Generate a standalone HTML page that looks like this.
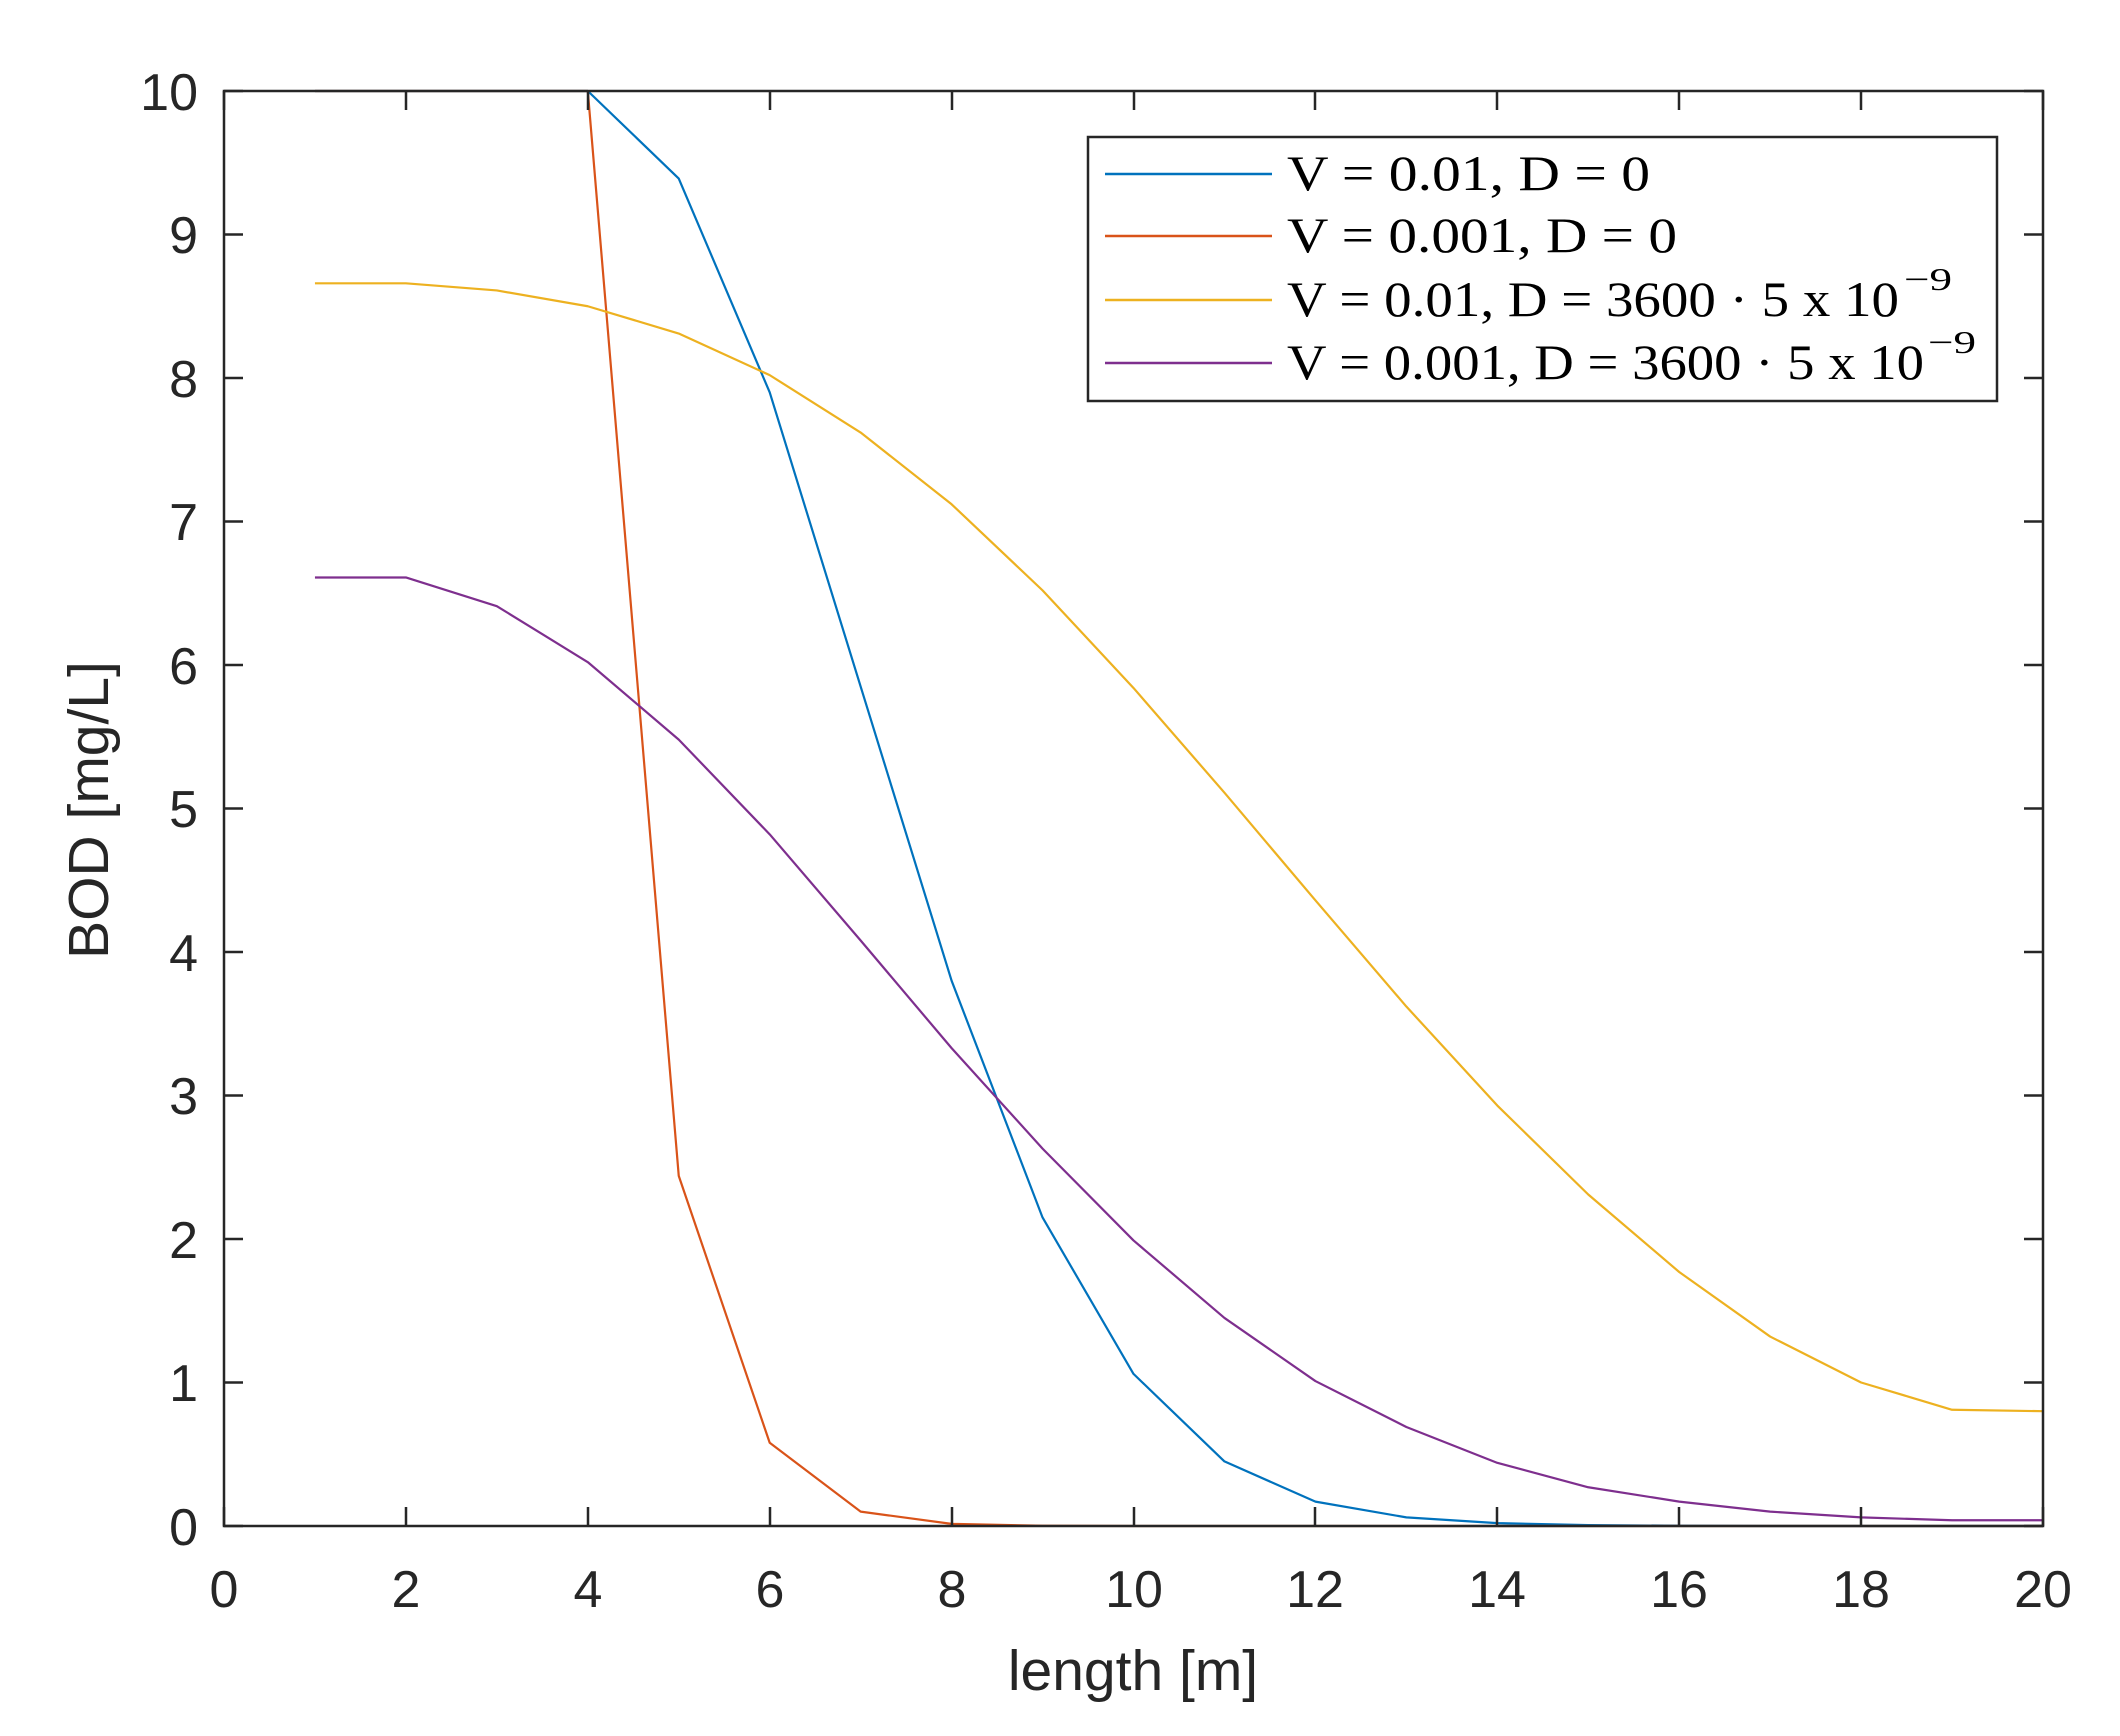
<!DOCTYPE html>
<html><head><meta charset="utf-8"><style>
html,body{margin:0;padding:0;background:#fff;}
svg{display:block}
</style></head><body>
<svg width="2120" height="1736" viewBox="0 0 2120 1736" xmlns="http://www.w3.org/2000/svg">
<rect width="2120" height="1736" fill="#fff"/>
<g transform="translate(224,1526) scale(90.95,-143.5)" fill="none" stroke-width="2.2" stroke-linejoin="round">
<polyline vector-effect="non-scaling-stroke" stroke="#0072BD" points="1,10 2,10 3,10 4,10 5,9.39 6,7.9 7,5.85 8,3.8 9,2.15 10,1.06 11,0.45 12,0.17 13,0.06 14,0.02 15,0.006 16,0.002 17,0 18,0 19,0 20,0"/>
<polyline vector-effect="non-scaling-stroke" stroke="#D95319" points="1,10 2,10 3,10 4,10 5,2.44 6,0.58 7,0.1 8,0.015 9,0.002 10,0 11,0 12,0 13,0 14,0 15,0 16,0 17,0 18,0 19,0 20,0"/>
<polyline vector-effect="non-scaling-stroke" stroke="#EDB120" points="1,8.66 2,8.66 3,8.61 4,8.5 5,8.31 6,8.02 7,7.62 8,7.12 9,6.52 10,5.84 11,5.11 12,4.36 13,3.62 14,2.93 15,2.31 16,1.77 17,1.32 18,1.0 19,0.81 20,0.8"/>
<polyline vector-effect="non-scaling-stroke" stroke="#7E2F8E" points="1,6.61 2,6.61 3,6.41 4,6.02 5,5.48 6,4.82 7,4.08 8,3.33 9,2.63 10,1.99 11,1.45 12,1.01 13,0.69 14,0.44 15,0.27 16,0.17 17,0.1 18,0.06 19,0.04 20,0.04"/>
</g>
<g stroke="#262626" stroke-width="2.5" fill="none">
<rect x="224" y="91" width="1819" height="1435"/>
<path d="M224,1526v-19M406,1526v-19M588,1526v-19M770,1526v-19M952,1526v-19M1134,1526v-19M1315,1526v-19M1497,1526v-19M1679,1526v-19M1861,1526v-19M2043,1526v-19
M224,91v19M406,91v19M588,91v19M770,91v19M952,91v19M1134,91v19M1315,91v19M1497,91v19M1679,91v19M1861,91v19M2043,91v19
M224,1526h19M224,1382.5h19M224,1239h19M224,1095.5h19M224,952h19M224,808.5h19M224,665h19M224,521.5h19M224,378h19M224,234.5h19M224,91h19
M2043,1526h-19M2043,1382.5h-19M2043,1239h-19M2043,1095.5h-19M2043,952h-19M2043,808.5h-19M2043,665h-19M2043,521.5h-19M2043,378h-19M2043,234.5h-19M2043,91h-19"/>
</g>
<g font-family="Liberation Sans, sans-serif" font-size="52" fill="#262626" text-anchor="middle">
<text x="224" y="1607">0</text><text x="406" y="1607">2</text><text x="588" y="1607">4</text><text x="770" y="1607">6</text><text x="952" y="1607">8</text><text x="1134" y="1607">10</text><text x="1315" y="1607">12</text><text x="1497" y="1607">14</text><text x="1679" y="1607">16</text><text x="1861" y="1607">18</text><text x="2043" y="1607">20</text>
</g>
<g font-family="Liberation Sans, sans-serif" font-size="52" fill="#262626" text-anchor="end">
<text x="198" y="1545">0</text><text x="198" y="1401">1</text><text x="198" y="1258">2</text><text x="198" y="1114">3</text><text x="198" y="971">4</text><text x="198" y="827">5</text><text x="198" y="684">6</text><text x="198" y="540">7</text><text x="198" y="397">8</text><text x="198" y="253">9</text><text x="198" y="110">10</text>
</g>
<text x="1133" y="1690" font-family="Liberation Sans, sans-serif" font-size="57" fill="#262626" text-anchor="middle">length [m]</text>
<text transform="translate(108,810) rotate(-90)" font-family="Liberation Sans, sans-serif" font-size="57" fill="#262626" text-anchor="middle">BOD [mg/L]</text>
<rect x="1088" y="137" width="909" height="264" fill="#fff" stroke="#262626" stroke-width="2.5"/>
<g stroke-width="2.5">
<line x1="1105" y1="174" x2="1272" y2="174" stroke="#0072BD"/>
<line x1="1105" y1="236" x2="1272" y2="236" stroke="#D95319"/>
<line x1="1105" y1="300" x2="1272" y2="300" stroke="#EDB120"/>
<line x1="1105" y1="363" x2="1272" y2="363" stroke="#7E2F8E"/>
</g>
<g font-family="Liberation Serif, serif" font-size="50" fill="#000">
<text x="1287" y="190" textLength="363" lengthAdjust="spacingAndGlyphs">V = 0.01, D = 0</text>
<text x="1287" y="252" textLength="390" lengthAdjust="spacingAndGlyphs">V = 0.001, D = 0</text>
<text x="1287" y="316" textLength="612" lengthAdjust="spacingAndGlyphs">V = 0.01, D = 3600 · 5 x 10</text>
<text x="1904" y="290" font-size="32" textLength="48" lengthAdjust="spacingAndGlyphs">−9</text>
<text x="1287" y="379" textLength="637" lengthAdjust="spacingAndGlyphs">V = 0.001, D = 3600 · 5 x 10</text>
<text x="1928" y="353" font-size="32" textLength="48" lengthAdjust="spacingAndGlyphs">−9</text>
</g>
</svg>
</body></html>
